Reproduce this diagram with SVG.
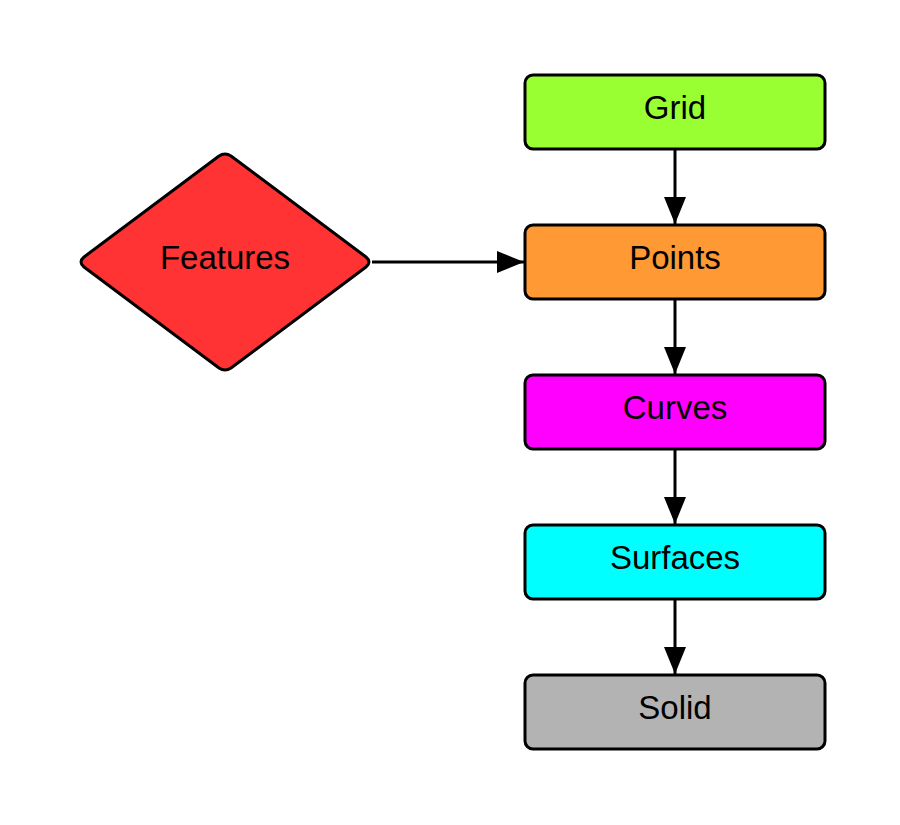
<svg xmlns="http://www.w3.org/2000/svg" width="900" height="825" viewBox="0 0 900 825">
<defs>
<marker id="arr" markerUnits="userSpaceOnUse" markerWidth="28" markerHeight="24" refX="27" refY="11" orient="auto">
<path d="M0,0 L27,11 L0,22 Z" fill="#000"/>
</marker>
<style>
.box{stroke:#000;stroke-width:3}
.lbl{font-family:"Liberation Sans",Arial,sans-serif;font-size:33px;fill:#000;text-anchor:middle}
.conn{stroke:#000;stroke-width:3;fill:none;marker-end:url(#arr)}
</style>
</defs>
<rect width="900" height="825" fill="#fff"/>
<g id="connectors">
<line class="conn" x1="675" y1="150" x2="675" y2="224"/>
<line class="conn" x1="675" y1="300" x2="675" y2="374"/>
<line class="conn" x1="675" y1="450" x2="675" y2="524"/>
<line class="conn" x1="675" y1="600" x2="675" y2="674"/>
<line class="conn" x1="372" y1="262" x2="524" y2="262"/>
</g>
<g id="features">
<path class="box" fill="#ff3333" d="M219,156 Q225,152 231,156 L366,257 Q372,262 366,267 L231,368 Q225,372 219,368 L84,267 Q78,262 84,257 Z" stroke-linejoin="round"/>
<text class="lbl" x="225" y="268.5">Features</text>
</g>
<g id="grid">
<rect class="box" x="525" y="75" width="300" height="74" rx="8" fill="#99ff33"/>
<text class="lbl" x="675" y="118.5">Grid</text>
</g>
<g id="points">
<rect class="box" x="525" y="225" width="300" height="74" rx="8" fill="#ff9933"/>
<text class="lbl" x="675" y="268.5">Points</text>
</g>
<g id="curves">
<rect class="box" x="525" y="375" width="300" height="74" rx="8" fill="#ff00ff"/>
<text class="lbl" x="675" y="418.5">Curves</text>
</g>
<g id="surfaces">
<rect class="box" x="525" y="525" width="300" height="74" rx="8" fill="#00ffff"/>
<text class="lbl" x="675" y="568.5">Surfaces</text>
</g>
<g id="solid">
<rect class="box" x="525" y="675" width="300" height="74" rx="8" fill="#b3b3b3"/>
<text class="lbl" x="675" y="718.5">Solid</text>
</g>
</svg>
